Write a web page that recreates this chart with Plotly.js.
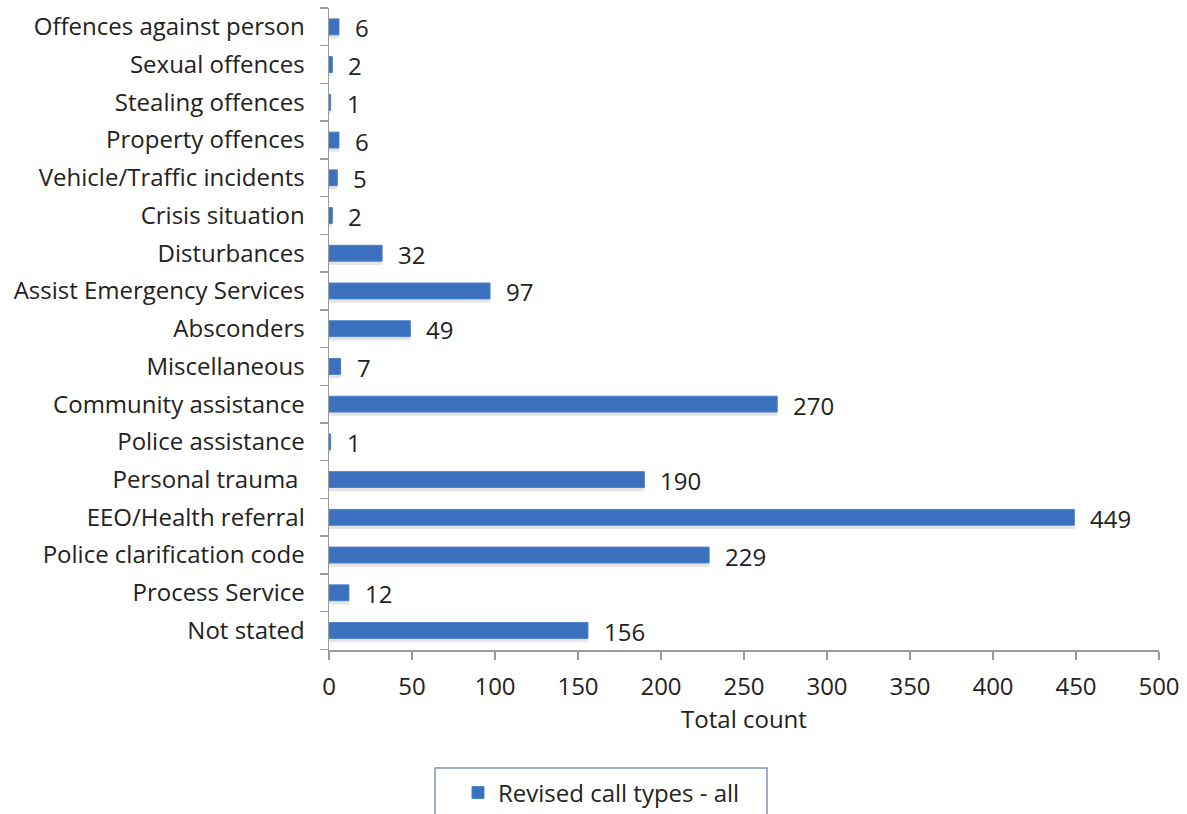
<!DOCTYPE html>
<html><head><meta charset="utf-8">
<script src="https://cdn.plot.ly/plotly-3.0.1.min.js"></script>
<style>html,body{margin:0;padding:0;background:#fff}#chart{width:1187px;height:814px}</style>
</head><body><div id="chart"></div>
<script>
const categories = ["Offences against person","Sexual offences","Stealing offences","Property offences","Vehicle/Traffic incidents","Crisis situation","Disturbances","Assist Emergency Services","Absconders","Miscellaneous","Community assistance","Police assistance","Personal trauma ","EEO/Health referral","Police clarification code","Process Service","Not stated"];
const values = [6,2,1,6,5,2,32,97,49,7,270,1,190,449,229,12,156];
const xTicks = [0,50,100,150,200,250,300,350,400,450,500];
const seriesName = "Revised call types - all";
const xTitle = "Total count";

const cats = categories.slice().reverse();
const vals = values.slice().reverse();
const font = "Open Sans, Liberation Sans, sans-serif";
const txt = "#222222";

const shadow = {
  type: "bar", orientation: "h", y: cats, x: vals, showlegend: false,
  width: 0.42, offset: -0.31,
  marker: {color: "rgba(110,110,110,0.18)", line: {width: 0}},
  hoverinfo: "skip"
};
const trace = {
  type: "bar", orientation: "h", y: cats, x: vals, name: seriesName,
  width: 0.42, offset: -0.21,
  marker: {color: "#3a70bd", line: {color: "#4a82cc", width: 1}},
  hoverinfo: "x+y"
};
const annotations = vals.map((v, i) => ({
  x: v, y: cats[i], xref: "x", yref: "y", text: String(v),
  showarrow: false, xanchor: "left", xshift: 14, yshift: -1,
  font: {family: font, size: 24, color: txt}
}));
const layout = {
  width: 1187, height: 814,
  margin: {l: 329, r: 28, t: 8, b: 164, autoexpand: false},
  paper_bgcolor: "#fff", plot_bgcolor: "#fff",
  font: {family: font, size: 24, color: txt},
  barmode: "overlay",
  xaxis: {
    range: [0, 500], tickvals: xTicks, ticktext: xTicks.map(String),
    showgrid: false, zeroline: false, showline: true, linecolor: "#9a9a9a", linewidth: 1.5,
    ticks: "outside", ticklen: 8, tickcolor: "#9a9a9a", tickwidth: 1.5,
    tickfont: {family: font, size: 24, color: txt}, ticklabelstandoff: 7,
    title: {text: xTitle, font: {family: font, size: 24, color: txt}, standoff: 10},
    fixedrange: true
  },
  yaxis: {
    type: "category", showgrid: false, zeroline: false, showline: true, linecolor: "#9a9a9a", linewidth: 1.5,
    ticks: "outside", ticklen: 8, tickcolor: "#9a9a9a", tickwidth: 1.5, tickson: "boundaries",
    tickfont: {family: font, size: 24, color: txt}, ticklabelstandoff: 18,
    fixedrange: true
  },
  showlegend: true,
  legend: {
    orientation: "h", xref: "container", x: 458 / 1187, xanchor: "left",
    yref: "container", y: 1 - 793 / 814, yanchor: "middle",
    borderwidth: 0, bgcolor: "rgba(0,0,0,0)",
    font: {family: font, size: 24, color: txt}
  },
  shapes: [{
    type: "rect", xref: "paper", yref: "paper",
    x0: (435 - 329) / 830, x1: (767 - 329) / 830,
    y0: (650 - 768) / 642, y1: (650 - 830) / 642,
    line: {color: "#7f94b5", width: 1.5}, fillcolor: "rgba(0,0,0,0)", layer: "below"
  }],
  annotations: annotations
};
Plotly.newPlot("chart", [shadow, trace], layout, {displayModeBar: false, staticPlot: true});
</script></body></html>
